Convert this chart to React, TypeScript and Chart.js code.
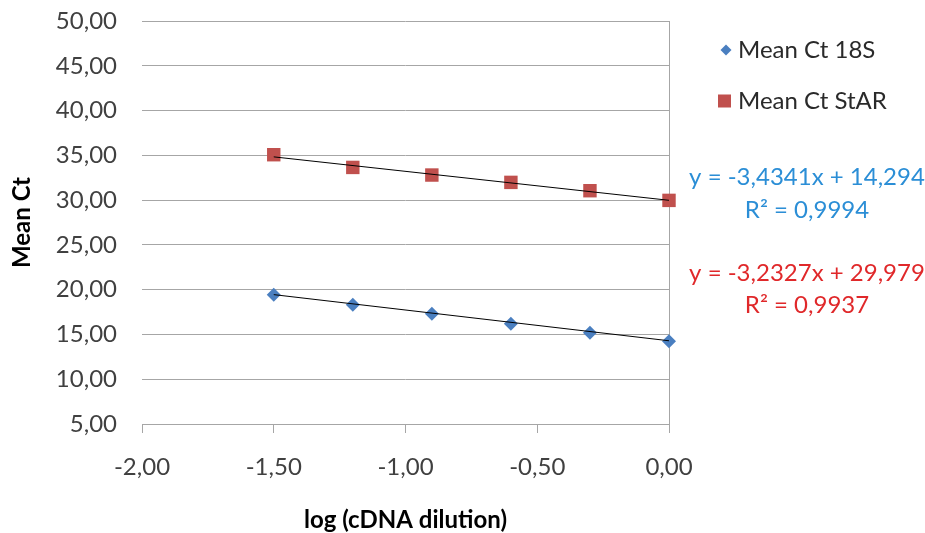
import React, { useEffect, useRef } from "react";
import { Chart, registerables } from "chart.js";

Chart.register(...registerables);

const xValues = [-1.5, -1.2, -0.9, -0.6, -0.3, 0];
const ct18S = [19.43, 18.31, 17.3, 16.2, 15.2, 14.25];
const ctStAR = [35.07, 33.65, 32.8, 31.98, 31.05, 29.97];
const seriesLabels = ["Mean Ct 18S", "Mean Ct StAR"];
const fitSlopes = [-3.4341, -3.2327];
const fitIntercepts = [14.294, 29.979];
const equationTexts = [
  ["y = -3,4341x + 14,294", "R² = 0,9994"],
  ["y = -3,2327x + 29,979", "R² = 0,9937"],
];
const xTitle = "log (cDNA dilution)";
const yTitle = "Mean Ct";

const BLUE = "#4a7fc0";
const RED = "#c0504d";
const BLUE_TEXT = "#2b8ed6";
const RED_TEXT = "#e0282a";
const FONT = "Lato, 'Open Sans', sans-serif";
const TEXT = "#404040";
const GRID = "#a6a6a6";

const fmt = (v: number) => v.toFixed(2).replace(".", ",");

const overlayPlugin = {
  id: "overlay",
  afterDraw(chart: any) {
    const ctx = chart.ctx;
    ctx.save();
    const legendItems = [
      { label: seriesLabels[0], color: BLUE, style: "diamond", y: 50 },
      { label: seriesLabels[1], color: RED, style: "square", y: 101 },
    ];
    ctx.font = `24px ${FONT}`;
    ctx.textBaseline = "middle";
    ctx.textAlign = "left";
    for (const it of legendItems) {
      ctx.fillStyle = it.color;
      if (it.style === "diamond") {
        const cx = 726, r = 5.5;
        ctx.beginPath();
        ctx.moveTo(cx, it.y - r);
        ctx.lineTo(cx + r, it.y);
        ctx.lineTo(cx, it.y + r);
        ctx.lineTo(cx - r, it.y);
        ctx.closePath();
        ctx.fill();
      } else {
        ctx.fillRect(718, it.y - 6.5, 13, 13);
      }
      ctx.fillStyle = "#2a2a2a";
      ctx.fillText(it.label, 738, it.y);
    }
    ctx.textAlign = "center";
    const eqPos = [
      [177, 210],
      [273, 305],
    ];
    const eqColors = [BLUE_TEXT, RED_TEXT];
    for (let i = 0; i < 2; i++) {
      ctx.fillStyle = eqColors[i];
      ctx.fillText(equationTexts[i][0], 807, eqPos[i][0]);
      ctx.fillText(equationTexts[i][1], 807, eqPos[i][1]);
    }
    ctx.restore();
  },
};

export default function App() {
  const ref = useRef<HTMLCanvasElement | null>(null);
  useEffect(() => {
    document.body.style.margin = "0";
    const canvas = ref.current!;
    const trend = (k: number) => [
      { x: xValues[0], y: fitSlopes[k] * xValues[0] + fitIntercepts[k] },
      {
        x: xValues[xValues.length - 1],
        y: fitSlopes[k] * xValues[xValues.length - 1] + fitIntercepts[k],
      },
    ];
    const chart = new Chart(canvas, {
      type: "scatter",
      data: {
        datasets: [
          {
            label: seriesLabels[0],
            data: xValues.map((x, i) => ({ x, y: ct18S[i] })),
            pointStyle: "rectRot",
            radius: 7,
            backgroundColor: BLUE,
            borderColor: BLUE,
            borderWidth: 0,
            clip: false,
            order: 2,
          },
          {
            label: seriesLabels[1],
            data: xValues.map((x, i) => ({ x, y: ctStAR[i] })),
            pointStyle: "rect",
            radius: 9.5,
            backgroundColor: RED,
            borderColor: RED,
            borderWidth: 0,
            clip: false,
            order: 2,
          },
          {
            type: "line",
            label: "trend18S",
            data: trend(0),
            borderColor: "#000",
            borderWidth: 1,
            pointRadius: 0,
            showLine: true,
            order: 0,
          } as any,
          {
            type: "line",
            label: "trendStAR",
            data: trend(1),
            borderColor: "#000",
            borderWidth: 1,
            pointRadius: 0,
            showLine: true,
            order: 0,
          } as any,
        ],
      },
      options: {
        animation: false,
        responsive: false,
        maintainAspectRatio: false,
        layout: { padding: { left: 0, top: 21, right: 256, bottom: 0 } },
        plugins: {
          legend: { display: false },
          tooltip: { enabled: false },
        },
        scales: {
          x: {
            type: "linear",
            min: -2,
            max: 0,
            afterFit: (s: any) => {
              s.height = 109;
              s.paddingLeft = 0;
              s.paddingRight = 0;
            },
            ticks: {
              stepSize: 0.5,
              callback: (v: any) => fmt(Number(v)),
              font: { family: FONT, size: 24 },
              color: TEXT,
              padding: 20,
              maxRotation: 0,
            },
            grid: {
              color: (c: any) => (c.tick && c.tick.value === 0 ? GRID : "rgba(0,0,0,0)"),
              tickColor: GRID,
              tickLength: 9,
              drawTicks: true,
              lineWidth: 1,
            },
            border: { display: true, color: GRID, width: 1 },
            title: {
              display: true,
              text: xTitle,
              font: { family: FONT, size: 24, weight: "bold", lineHeight: 1.1 },
              color: "#000",
              padding: { top: 0, bottom: 0 },
            },
          },
          y: {
            type: "linear",
            min: 5,
            max: 50,
            afterFit: (s: any) => {
              s.width = 142;
              s.paddingTop = 0;
              s.paddingBottom = 0;
            },
            ticks: {
              stepSize: 5,
              callback: (v: any) => fmt(Number(v)),
              font: { family: FONT, size: 24 },
              color: TEXT,
              padding: 25,
            },
            grid: {
              color: GRID,
              lineWidth: 1,
              drawTicks: false,
            },
            border: { display: false },
            title: {
              display: true,
              text: yTitle,
              font: { family: FONT, size: 24, weight: "bold" },
              color: "#000",
              padding: { top: 8, bottom: 0 },
            },
          },
        },
      } as any,
      plugins: [overlayPlugin],
    });
    return () => chart.destroy();
  }, []);
  return (
    <div style={{ width: 925, height: 533, background: "#fff" }}>
      <canvas ref={ref} width={925} height={533} style={{ display: "block" }} />
    </div>
  );
}
